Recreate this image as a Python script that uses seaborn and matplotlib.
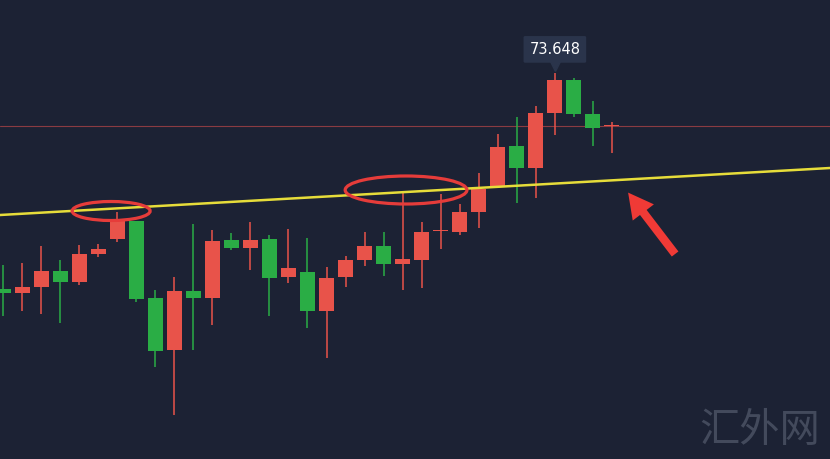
import matplotlib
matplotlib.use("Agg")
import matplotlib.pyplot as plt
import seaborn as sns
import pandas as pd
from matplotlib.patches import Ellipse

# candle data (open, high, low, close)
opens = [72.568, 72.548, 72.578, 72.658, 72.603, 72.743, 72.818, 72.908, 72.523, 72.263,
         72.558, 72.523, 72.813, 72.773, 72.818, 72.628, 72.653, 72.458, 72.628, 72.713,
         72.783, 72.693, 72.713, 72.858, 72.853, 72.953, 73.078, 73.283, 73.173, 73.448,
         73.613, 73.443, 73.383]
highs = [72.688, 72.698, 72.783, 72.713, 72.788, 72.793, 72.953, 72.908, 72.563, 72.628,
         72.893, 72.863, 72.848, 72.903, 72.838, 72.868, 72.823, 72.678, 72.733, 72.853,
         72.853, 73.048, 72.903, 73.043, 72.993, 73.148, 73.343, 73.428, 73.483, 73.648,
         73.623, 73.508, 73.403]
lows = [72.433, 72.458, 72.443, 72.398, 72.588, 72.728, 72.803, 72.503, 72.178, 71.938,
        72.263, 72.388, 72.763, 72.663, 72.433, 72.598, 72.373, 72.223, 72.578, 72.683,
        72.633, 72.563, 72.573, 72.768, 72.838, 72.873, 73.078, 72.998, 73.023, 73.338,
        73.428, 73.283, 73.248]
closes = [72.548, 72.578, 72.658, 72.603, 72.743, 72.768, 72.918, 72.518, 72.258, 72.558,
          72.523, 72.808, 72.773, 72.813, 72.623, 72.673, 72.458, 72.623, 72.713, 72.783,
          72.693, 72.718, 72.853, 72.858, 72.953, 73.068, 73.278, 73.173, 73.448, 73.613,
          73.443, 73.373, 73.383]

last_price = 73.383
peak_label = "73.648"
peak_index = 29

# trend line and annotations
trend_x = [-0.16, 43.46]
trend_y = [72.938, 73.173]
ellipse_centers = [(5.68, 72.958), (21.18, 73.063)]
ellipse_sizes = [(4.1, 0.095), (6.4, 0.14)]
arrow_tip = (32.85, 73.05)
arrow_tail = (35.32, 72.743)

bg = "#1c2234"
up_col = "#e8534a"
down_col = "#2aad45"
label_bg = "#2a344b"

sns.set_theme(style="dark", rc={"axes.facecolor": bg, "figure.facecolor": bg})
plt.rcParams["font.family"] = ["Noto Sans CJK SC", "DejaVu Sans"]

df = pd.DataFrame({"open": opens, "high": highs, "low": lows, "close": closes})
df["idx"] = range(len(df))
df["up"] = df["close"] >= df["open"]
df["color"] = df["up"].map({True: up_col, False: down_col})

fig = plt.figure(figsize=(8.3, 4.59), dpi=100)
ax = fig.add_axes([0, 0, 1, 1])
ax.set_facecolor(bg)

# last price line
ax.axhline(last_price, color="#8a3b42", lw=0.8, zorder=1)

# wicks + bodies
ax.vlines(df["idx"], df["low"], df["high"], colors=df["color"], lw=1.1, zorder=2)
body_lo = df[["open", "close"]].min(axis=1)
body_h = (df["close"] - df["open"]).abs().clip(lower=0.005)
ax.bar(df["idx"], body_h, bottom=body_lo, width=0.79, color=df["color"], lw=0, zorder=3)

# trend line
sns.lineplot(x=trend_x, y=trend_y, ax=ax, color="#e6dd3a", lw=1.8, zorder=4)

# red ellipses
for (cx, cy), (w, h) in zip(ellipse_centers, ellipse_sizes):
    ax.add_patch(Ellipse((cx, cy), w, h, fill=False, ec="#e63c3a", lw=2.3, zorder=5))

# arrow
ax.annotate("", xy=arrow_tip, xytext=arrow_tail,
            arrowprops=dict(arrowstyle="simple,head_length=1.5,head_width=1.6,tail_width=0.5",
                            fc="#f03a36", ec="none", shrinkA=0, shrinkB=0), zorder=6)

# peak price label
ax.annotate(peak_label, xy=(peak_index, highs[peak_index]), xytext=(0, 17),
            textcoords="offset points", ha="center", va="center", color="white", fontsize=10.5,
            family=["DejaVu Sans"],
            bbox=dict(boxstyle="round,pad=0.4,rounding_size=0.1", fc=label_bg, ec="none"))
ax.plot([peak_index], [highs[peak_index] + 0.034], marker="v", ms=7, color=label_bg, zorder=6)

# watermark
ax.text(0.988, 0.018, "汇外网", transform=ax.transAxes, ha="right", va="bottom",
        fontsize=29, color="#434a5c", fontweight="light")

ax.set_xlim(-0.16, 43.46)
ax.set_ylim(71.718, 74.013)
ax.axis("off")

fig.savefig("out.png", dpi=100, facecolor=bg)
